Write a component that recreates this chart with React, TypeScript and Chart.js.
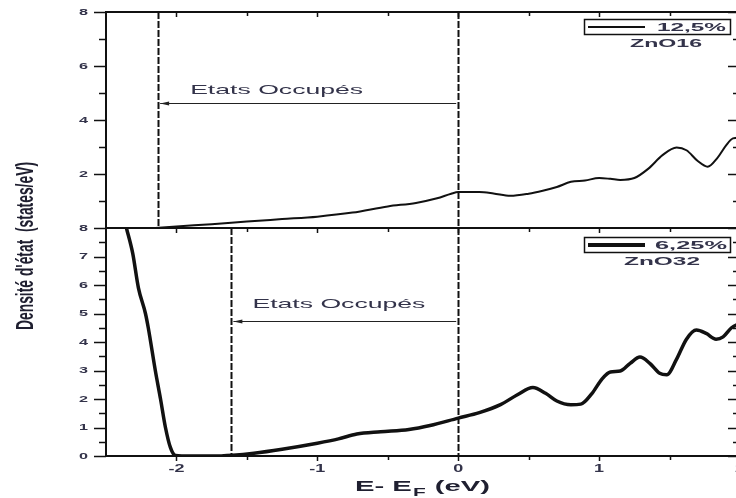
import React, { useEffect, useRef } from "react";
import { Chart, registerables } from "chart.js";

Chart.register(...registerables);

// ---- Data ----
const energyZnO16 = [-2.15, -2.0, -1.75, -1.5, -1.25, -1.0, -0.75, -0.5, -0.3, -0.15, -0.05, 0.0, 0.15, 0.25, 0.37, 0.5, 0.6, 0.7, 0.8, 0.9, 1.0, 1.08, 1.15, 1.25, 1.35, 1.45, 1.55, 1.62, 1.7, 1.77, 1.84, 1.9, 1.95, 2.0];
const dosZnO16 = [0, 0.06, 0.14, 0.24, 0.33, 0.42, 0.57, 0.8, 0.93, 1.1, 1.27, 1.33, 1.33, 1.28, 1.19, 1.27, 1.38, 1.52, 1.71, 1.76, 1.85, 1.82, 1.78, 1.85, 2.2, 2.7, 2.98, 2.88, 2.48, 2.27, 2.6, 3.05, 3.32, 3.35];

const energyZnO32 = [-2.355, -2.31, -2.27, -2.22, -2.2, -2.15, -2.113, -2.078, -2.043, -2.007, -1.9, -1.75, -1.6, -1.45, -1.25, -1.0, -0.85, -0.72, -0.55, -0.35, -0.2, 0.0, 0.15, 0.3, 0.42, 0.53, 0.62, 0.7, 0.8, 0.87, 0.95, 1.02, 1.08, 1.15, 1.22, 1.29, 1.36, 1.43, 1.48, 1.55, 1.62, 1.69, 1.76, 1.83, 1.88, 1.94, 2.0];
const dosZnO32 = [8.0, 7.1, 5.9, 5.0, 4.5, 3.0, 2.0, 1.0, 0.3, 0.02, 0, 0, 0.03, 0.1, 0.24, 0.45, 0.6, 0.77, 0.85, 0.93, 1.07, 1.33, 1.52, 1.8, 2.15, 2.4, 2.2, 1.93, 1.8, 1.82, 2.2, 2.7, 2.95, 2.98, 3.25, 3.47, 3.25, 2.9, 2.85, 3.4, 4.1, 4.42, 4.3, 4.1, 4.18, 4.5, 4.65];

const xTickLabels = [-2, -1, 0, 1, 2];
const yTickLabelsTop = [2, 4, 6, 8];
const yTickLabelsBottom = [0, 1, 2, 3, 4, 5, 6, 7, 8];
const seriesLabels = ["12,5%", "6,25%"];
const panelNames = ["ZnO16", "ZnO32"];
const occupiedFrom = [-2.13, -1.61];
const occupiedTo = [0, 0];
const arrowLevel = [4.62, 4.72];
const occupiedText = "Etats Occupés";
const yTitle = "Densité d'état  (states/eV)";

const FONT = "'Liberation Sans', Arial, Helvetica, sans-serif";
const TEXT = "#33334a";

function drawScaled(ctx: CanvasRenderingContext2D, text: string, x: number, y: number, font: string, sx: number, align: CanvasTextAlign, baseline: CanvasTextBaseline, color: string) {
  ctx.save();
  ctx.font = font;
  ctx.fillStyle = color;
  ctx.textAlign = align;
  ctx.textBaseline = baseline;
  ctx.translate(x, y);
  ctx.scale(sx, 1);
  ctx.fillText(text, 0, 0);
  ctx.restore();
}

function drawFit(ctx: CanvasRenderingContext2D, text: string, left: number, baseline: number, font: string, width: number, color: string) {
  ctx.save();
  ctx.font = font;
  const w = ctx.measureText(text).width;
  ctx.fillStyle = color;
  ctx.textAlign = "left";
  ctx.textBaseline = "alphabetic";
  ctx.translate(left, baseline);
  ctx.scale(width / w, 1);
  ctx.fillText(text, 0, 0);
  ctx.restore();
}

const decorPlugin = {
  id: "decor",
  afterDatasetsDraw(chart: any) {
    const ctx: CanvasRenderingContext2D = chart.ctx;
    const xs = chart.scales.x;
    const yt = chart.scales.yTop;
    const yb = chart.scales.yBot;
    const L = chart.chartArea.left;
    const R = chart.chartArea.right;
    const topY = yt.getPixelForValue(8);
    const midY = yt.getPixelForValue(0);
    const botY = yb.getPixelForValue(0);
    const panels = [yt, yb];

    // dashed lines & arrows
    panels.forEach((ys: any, i: number) => {
      const y0 = ys.getPixelForValue(8);
      const y1 = ys.getPixelForValue(0);
      ctx.save();
      ctx.strokeStyle = "#111";
      ctx.lineWidth = 2;
      ctx.setLineDash([7, 2]);
      [occupiedFrom[i], occupiedTo[i]].forEach((v) => {
        const px = Math.round(xs.getPixelForValue(v)) + 0.5;
        ctx.beginPath();
        ctx.moveTo(px, y0);
        ctx.lineTo(px, y1);
        ctx.stroke();
      });
      ctx.restore();

      const ay = Math.round(ys.getPixelForValue(arrowLevel[i])) + 0.5;
      const ax0 = xs.getPixelForValue(occupiedFrom[i]) + 2;
      const ax1 = xs.getPixelForValue(occupiedTo[i]) - 2;
      ctx.save();
      ctx.strokeStyle = "#222";
      ctx.lineWidth = 1;
      ctx.beginPath();
      ctx.moveTo(ax0, ay);
      ctx.lineTo(ax1, ay);
      ctx.stroke();
      ctx.fillStyle = "#222";
      ctx.beginPath();
      ctx.moveTo(ax0, ay);
      ctx.lineTo(ax0 + 9, ay - 2);
      ctx.lineTo(ax0 + 9, ay + 2);
      ctx.closePath();
      ctx.fill();
      ctx.restore();

      // annotation text
      const tx = ax0 + (i === 0 ? 30 : 19);
      drawFit(ctx, occupiedText, tx, ay - 10 - (i === 0 ? 0 : 4), `13px ${FONT}`, 173, TEXT);
    });

    // frame
    ctx.save();
    ctx.strokeStyle = "#111";
    ctx.lineWidth = 2;
    ctx.beginPath();
    ctx.moveTo(L, topY);
    ctx.lineTo(L, botY);
    ctx.moveTo(R, topY);
    ctx.lineTo(R, botY);
    [topY, midY, botY].forEach((y) => {
      ctx.moveTo(L - 1, y);
      ctx.lineTo(R + 1, y);
    });
    ctx.stroke();

    // y ticks
    ctx.lineWidth = 1.5;
    ctx.beginPath();
    panels.forEach((ys: any, i: number) => {
      const step = i === 0 ? 1 : 0.5;
      for (let v = 0; v <= 8 + 1e-9; v += step) {
        const major = i === 0 ? v % 2 === 0 : Number.isInteger(v);
        const len = major ? 12 : 7;
        const py = Math.round(ys.getPixelForValue(v)) + 0.5;
        ctx.moveTo(L - len, py);
        ctx.lineTo(L, py);
        ctx.moveTo(R - len, py);
        ctx.lineTo(R, py);
      }
    });
    // x ticks
    for (let v = -2; v <= 2 + 1e-9; v += 0.5) {
      const px = Math.round(xs.getPixelForValue(v)) + 0.5;
      const len = Number.isInteger(v) ? 5 : 4;
      [topY, midY, botY].forEach((y) => {
        ctx.moveTo(px, y);
        ctx.lineTo(px, y + len);
      });
    }
    ctx.stroke();
    ctx.restore();

    // y tick labels
    yTickLabelsTop.forEach((v) => {
      drawScaled(ctx, String(v), L - 18, yt.getPixelForValue(v) + 0.5, `bold 9px ${FONT}`, 1.8, "right", "middle", TEXT);
    });
    yTickLabelsBottom.forEach((v) => {
      drawScaled(ctx, String(v), L - 18, yb.getPixelForValue(v) + 0.5, `bold 9px ${FONT}`, 1.8, "right", "middle", TEXT);
    });
    // x tick labels
    xTickLabels.forEach((v) => {
      drawScaled(ctx, String(v), xs.getPixelForValue(v), botY + 13, `bold 10px ${FONT}`, 1.8, "center", "middle", TEXT);
    });

    // x title: E- E_F (eV)
    ctx.save();
    const mainFont = `bold 14px ${FONT}`;
    const subFont = `bold 10px ${FONT}`;
    ctx.font = mainFont;
    const w1 = ctx.measureText("E- E").width;
    const w3 = ctx.measureText(" (eV)").width;
    ctx.font = subFont;
    const w2 = ctx.measureText("F").width;
    const sx = 135 / (w1 + w2 + w3 + 1);
    ctx.translate(355, botY + 35);
    ctx.scale(sx, 1);
    ctx.fillStyle = "#1f1f30";
    ctx.textBaseline = "alphabetic";
    ctx.textAlign = "left";
    ctx.font = mainFont;
    ctx.fillText("E- E", 0, 0);
    ctx.font = subFont;
    ctx.fillText("F", w1 + 0.5, 5);
    ctx.font = mainFont;
    ctx.fillText(" (eV)", w1 + w2 + 1, 0);
    ctx.restore();

    // y title (rotated, stretched)
    ctx.save();
    ctx.font = `bold 12px ${FONT}`;
    const wt = ctx.measureText(yTitle).width;
    ctx.translate(26, 246);
    ctx.rotate(-Math.PI / 2);
    ctx.scale(168 / wt, 2);
    ctx.fillStyle = "#1f1f30";
    ctx.textAlign = "center";
    ctx.textBaseline = "middle";
    ctx.fillText(yTitle, 0, 0);
    ctx.restore();

    // legends
    const boxes = [
      { top: 19, lw: 2 },
      { top: 237, lw: 4 },
    ];
    boxes.forEach((b, i) => {
      ctx.save();
      ctx.strokeStyle = "#111";
      ctx.lineWidth = 1.5;
      ctx.strokeRect(584.5, b.top + 0.5, 146, 15);
      ctx.lineWidth = b.lw;
      ctx.beginPath();
      ctx.moveTo(588, b.top + 8);
      ctx.lineTo(645, b.top + 8);
      ctx.stroke();
      ctx.restore();
      drawFit(ctx, seriesLabels[i], i === 0 ? 657 : 655, b.top + 12, `bold 10px ${FONT}`, i === 0 ? 69 : 72, TEXT);
      drawFit(ctx, panelNames[i], i === 0 ? 630 : 624, b.top + 28, `bold 11px ${FONT}`, i === 0 ? 72 : 76, TEXT);
    });
  },
};

export default function App() {
  const canvasRef = useRef<HTMLCanvasElement | null>(null);

  useEffect(() => {
    const canvas = canvasRef.current;
    if (!canvas) return;
    const chart = new Chart(canvas, {
      type: "line",
      data: {
        datasets: [
          {
            label: seriesLabels[0],
            data: energyZnO16.map((e, i) => ({ x: e, y: dosZnO16[i] })),
            yAxisID: "yTop",
            borderColor: "#111",
            borderWidth: 2,
            pointRadius: 0,
            cubicInterpolationMode: "monotone",
            fill: false,
          },
          {
            label: seriesLabels[1],
            data: energyZnO32.map((e, i) => ({ x: e, y: dosZnO32[i] })),
            yAxisID: "yBot",
            borderColor: "#111",
            borderWidth: 3.5,
            pointRadius: 0,
            cubicInterpolationMode: "monotone",
            fill: false,
          },
        ],
      },
      options: {
        responsive: false,
        maintainAspectRatio: false,
        devicePixelRatio: 1,
        animation: false,
        layout: { padding: { left: 106, top: 12, right: 5, bottom: 42 } },
        plugins: { legend: { display: false }, tooltip: { enabled: false } },
        scales: {
          x: { type: "linear", min: -2.5, max: 2, display: false },
          yBot: { type: "linear", min: 0, max: 8, display: false, position: "left", stack: "panels", stackWeight: 228, weight: 1 },
          yTop: { type: "linear", min: 0, max: 8, display: false, position: "left", stack: "panels", stackWeight: 216, weight: 2 },
        },
      },
      plugins: [decorPlugin],
    } as any);
    return () => chart.destroy();
  }, []);

  return (
    <div style={{ position: "fixed", left: 0, top: 0, width: 736, height: 498, overflow: "hidden", background: "#fff" }}>
      <canvas ref={canvasRef} width={745} height={498} style={{ display: "block", width: 745, height: 498 }} />
    </div>
  );
}
